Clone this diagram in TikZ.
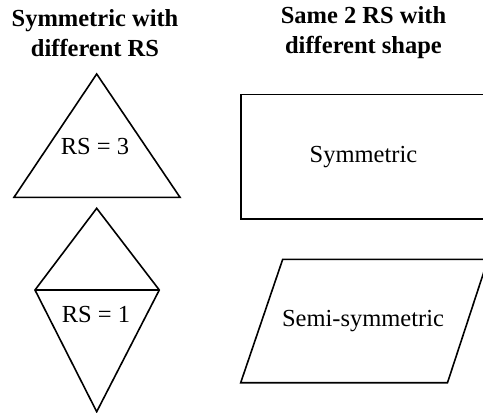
\documentclass[tikz,border=0pt]{standalone}
\usepackage{fontspec}
\setmainfont{Liberation Serif}
\begin{document}
\begin{tikzpicture}[x=1pt,y=-1pt,
  shp/.style={draw=black,line width=1.6pt,line join=miter},
  head/.style={font=\fontsize{24.5}{30}\selectfont\bfseries,align=center,inner sep=0pt},
  lbl/.style={font=\fontsize{24.5}{30}\selectfont,inner sep=0pt}]
\useasboundingbox (0,0) rectangle (483,413);
\clip (0,0) rectangle (483,413);
\node[head] (h1) at (95,33) {Symmetric with\\different RS};
\node[head] (h2) at (363.5,33) {Same 2 RS with\\different shape};
% triangle
\coordinate (ta) at (96.7,74);
\coordinate (tl) at (14,197.3);
\coordinate (tr) at (180,197.3);
\draw[shp] (ta) -- (tr) -- (tl) -- cycle;
\node[lbl] (rs3) at (95,146.5) {RS = 3};
% diamond
\coordinate (dt) at (96.7,208.3);
\coordinate (dl) at (35,290);
\coordinate (dr) at (159.3,290);
\coordinate (db) at (96.7,411.7);
\draw[shp] (dt) -- (dr) -- (db) -- (dl) -- cycle;
\draw[shp] (dl) -- (dr);
\node[lbl] (rs1) at (96,314.5) {RS = 1};
% rectangle (right edge beyond the picture)
\draw[shp] (240.7,94.3) rectangle (490,218.7);
\node[lbl] (sym) at (363.5,157) {Symmetric};
% parallelogram
\draw[shp] (240.7,382.7) -- (282.7,259.3) -- (488,259.3) -- (447.5,382.7) -- cycle;
\node[lbl] (semi) at (363,321.5) {Semi-symmetric};
\end{tikzpicture}
\end{document}
